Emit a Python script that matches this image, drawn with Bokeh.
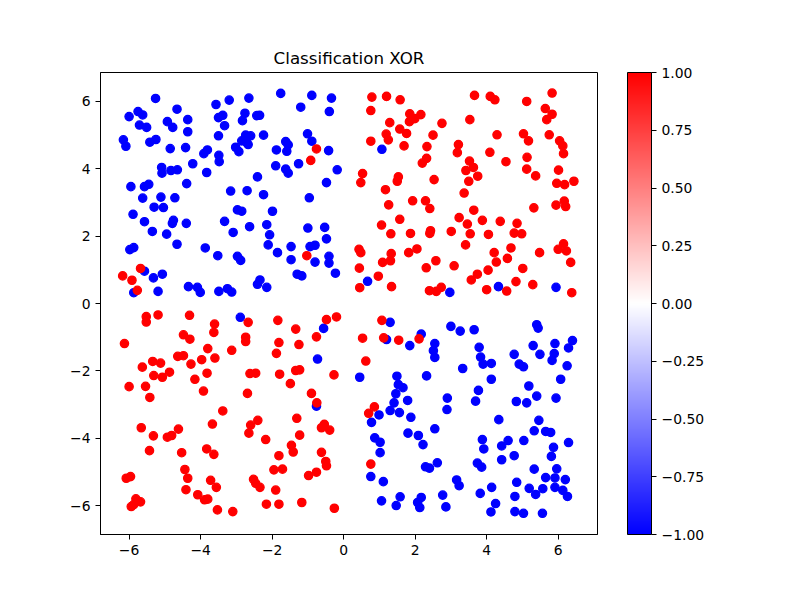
import numpy as np
from bokeh.plotting import figure
from bokeh.models import (ColumnDataSource, LinearColorMapper, ColorBar, FixedTicker,
                          CustomJSTickFormatter, Range1d)
from bokeh.transform import linear_cmap
from bokeh.embed import file_html
from bokeh.resources import INLINE

# ---- data (x, y) ----
blue_points = [
    (-5.26, 6.09), (-5.75, 5.70), (-5.62, 5.60), (-6.00, 5.55), (-4.66, 5.77), (-4.36, 5.46),
    (-4.93, 5.40), (-4.78, 5.23), (-5.71, 5.30), (-5.51, 5.23), (-4.36, 5.10), (-6.16, 4.86),
    (-6.09, 4.67), (-5.42, 4.79), (-5.25, 4.87), (-4.85, 4.60), (-4.42, 4.63), (-3.57, 5.91),
    (-3.50, 5.52), (-3.38, 5.59), (-3.33, 5.28), (-3.50, 4.98), (-3.81, 4.56), (-3.91, 4.45),
    (-3.49, 4.40), (-3.48, 4.21), (-4.22, 4.15), (-5.09, 4.04), (-5.08, 3.87), (-4.83, 3.95),
    (-4.65, 3.97), (-3.83, 3.89), (-4.39, 3.56), (-5.95, 3.47), (-5.57, 3.47), (-5.45, 3.54),
    (-5.62, 3.13), (-5.11, 3.16), (-4.72, 3.14), (-5.30, 2.86), (-5.04, 2.85), (-5.89, 2.65),
    (-5.57, 2.43), (-4.76, 2.47), (-4.79, 2.38), (-4.40, 2.38), (-3.33, 2.44),
    (-3.20, 6.04), (-2.65, 6.10), (-1.76, 6.24), (-0.89, 6.18), (-0.34, 6.10), (-1.20, 5.83),
    (-0.40, 5.70), (-2.76, 5.65), (-2.83, 5.43), (-2.43, 5.58), (-2.35, 5.59), (-2.74, 5.00),
    (-2.60, 4.98), (-2.85, 4.83), (-2.71, 4.78), (-2.67, 4.72), (-3.02, 4.64), (-2.93, 4.51),
    (-2.24, 5.00), (-1.62, 4.81), (-1.55, 4.71), (-1.88, 4.56), (-1.59, 4.52), (-1.01, 5.04),
    (-0.89, 4.82), (-0.42, 4.54), (-1.90, 4.09), (-1.62, 3.99), (-1.55, 3.87), (-1.26, 4.15),
    (-0.18, 3.97), (-2.41, 3.76), (-0.48, 3.59), (-3.16, 3.34), (-2.70, 3.35), (-2.24, 3.23),
    (-0.96, 3.14), (-2.97, 2.78), (-2.85, 2.74), (-1.99, 2.74), (-2.15, 2.34), (-1.00, 2.24),
    (-0.53, 2.26),
    (-3.09, 2.11), (-2.63, 2.28), (-2.07, 2.04), (-0.48, 1.92), (-2.11, 1.74), (-1.85, 1.51),
    (-1.47, 1.69), (-0.94, 1.69), (-0.80, 1.73), (-1.47, 1.30), (-0.80, 1.23), (-0.41, 1.40),
    (-0.41, 1.20), (-2.97, 1.40), (-2.88, 1.28), (-1.30, 0.87), (-1.17, 0.82), (-0.23, 0.90),
    (-2.34, 0.70), (-2.41, 0.57), (-2.15, 0.48), (-3.25, 0.44), (-3.13, 0.34),
    (-2.89, -0.41), (-0.56, -0.74), (-0.73, -1.65),
    (-5.35, 2.14), (-4.95, 2.06), (-4.66, 1.76), (-5.98, 1.60), (-5.87, 1.66), (-3.87, 1.65),
    (-3.52, 1.42), (-5.57, 0.96), (-5.32, 0.76), (-5.07, 0.87), (-5.87, 0.32), (-5.19, 0.36),
    (-4.34, 0.50), (-4.09, 0.48), (-4.01, 0.33), (-3.49, 0.36),
    (-0.76, -3.05), (1.07, 4.58), (0.67, 0.66), (2.97, 0.33),
    (1.30, -0.56), (1.20, -1.07), (2.17, -0.91), (1.85, -1.25), (2.55, -1.19), (2.51, -1.40),
    (2.55, -1.60), (3.00, -0.68), (3.26, -0.82), (3.65, -0.78), (3.33, -1.93), (0.45, -2.19),
    (1.49, -2.16), (2.32, -2.15),
    (4.33, 0.50), (5.94, 0.48), (5.40, -0.63), (5.44, -0.73), (6.40, -1.10), (5.91, -1.19),
    (5.30, -1.25), (6.29, -1.32), (3.79, -1.30), (5.89, -1.49), (5.49, -1.51), (4.77, -1.51),
    (3.83, -1.59), (5.83, -1.69), (3.90, -1.80), (4.13, -1.78), (4.91, -1.80), (5.03, -1.88),
    (6.25, -1.85), (4.13, -2.25), (6.07, -2.25),
    (1.53, -2.41), (1.66, -2.50), (1.46, -2.68), (1.79, -2.88), (1.41, -2.95), (1.30, -3.18),
    (1.56, -3.24), (0.99, -3.31), (0.78, -3.53), (1.88, -3.38), (2.90, -2.81), (2.89, -3.15),
    (2.55, -3.72), (1.80, -3.85), (2.09, -3.92), (2.22, -4.19), (0.87, -3.99), (1.02, -4.12),
    (1.02, -4.43), (2.29, -4.85), (2.40, -4.89), (2.62, -4.73), (0.76, -5.14), (1.11, -5.29),
    (3.16, -5.24), (3.23, -5.41), (1.58, -5.74), (1.06, -5.86), (1.47, -6.00), (2.17, -5.76),
    (2.07, -5.91), (2.13, -6.06), (2.77, -5.69), (2.86, -6.04),
    (3.77, -2.58), (3.69, -2.90), (5.18, -2.45), (5.40, -2.75), (5.94, -2.81), (4.83, -2.91),
    (5.12, -2.95), (4.34, -3.45), (5.46, -3.47), (5.33, -3.78), (5.65, -3.80), (5.79, -3.83),
    (5.04, -4.07), (6.29, -4.13), (4.60, -4.07), (4.42, -4.23), (3.88, -4.04), (3.92, -4.32),
    (5.87, -4.27), (5.81, -4.54), (4.77, -4.52), (4.42, -4.64), (3.74, -4.74), (3.86, -4.86),
    (5.33, -4.92), (5.96, -4.91), (5.65, -5.17), (5.91, -5.18), (6.20, -5.23), (4.84, -5.31),
    (4.14, -5.46), (5.19, -5.49), (5.57, -5.50), (5.91, -5.46), (5.37, -5.67), (6.13, -5.55),
    (6.26, -5.73), (3.82, -5.64), (4.79, -5.73), (4.25, -5.94), (4.12, -6.19), (4.79, -6.18),
    (5.03, -6.23), (5.56, -6.23),
]

red_points = [
    (-0.76, 4.59), (-0.92, 4.25), (-1.03, 1.42),
    (-2.67, -0.56), (-1.84, -0.50), (-1.34, -0.76), (-0.48, -0.48), (-0.20, -0.40), (-0.76, -0.99),
    (-2.74, -1.00), (-2.74, -1.13), (-1.81, -1.16), (-1.25, -1.22), (-3.13, -1.39), (-1.88, -1.48),
    (-2.62, -2.08), (-2.46, -2.07), (-1.79, -2.10), (-1.34, -1.99), (-1.23, -1.97), (-0.27, -2.12),
    (-5.68, 1.04), (-6.18, 0.82), (-5.92, 0.69), (-5.77, 0.39),
    (-5.52, -0.39), (-5.52, -0.55), (-5.19, -0.34), (-4.31, -0.35), (-3.61, -0.61), (-3.63, -0.86),
    (-4.48, -0.93), (-4.30, -1.06), (-6.13, -1.19), (-3.80, -1.34), (-4.64, -1.57), (-4.48, -1.55),
    (-3.97, -1.67), (-3.60, -1.62), (-4.27, -1.80), (-5.34, -1.72), (-5.12, -1.77), (-5.63, -1.89),
    (-3.82, -2.07), (-5.31, -2.14), (-5.07, -2.19), (-4.87, -2.04), (-4.16, -2.25),
    (-6.00, -2.47), (-5.54, -2.46), (-5.42, -2.79), (-3.92, -2.60), (-3.38, -3.19), (-3.67, -3.58),
    (-5.66, -3.69), (-5.32, -3.93), (-4.93, -3.97), (-4.81, -3.92), (-4.62, -3.73), (-5.43, -4.37),
    (-4.53, -4.43), (-3.83, -4.32), (-3.63, -4.48), (-4.44, -4.93), (-4.36, -5.19), (-6.08, -5.19),
    (-5.96, -5.14), (-3.72, -5.25), (-3.56, -5.46), (-4.41, -5.53), (-4.08, -5.68), (-3.89, -5.83),
    (-3.80, -5.81), (-3.53, -6.13), (-5.81, -5.80), (-5.68, -5.89), (-5.94, -6.03), (-5.87, -5.97),
    (-2.69, -2.67), (-1.49, -2.38), (-0.90, -2.67), (-0.75, -2.95), (-2.40, -3.47), (-2.60, -3.61),
    (-2.65, -3.85), (-1.31, -3.41), (-0.54, -3.59), (-0.62, -3.69), (-0.39, -3.76), (-1.23, -3.91),
    (-2.18, -4.04), (-1.46, -4.21), (-1.41, -4.41), (-1.81, -4.52), (-0.62, -4.42), (-0.50, -4.69),
    (-0.48, -4.82), (-1.95, -4.94), (-1.71, -4.92), (-0.76, -5.01), (-0.98, -5.11), (-2.52, -5.22),
    (-2.46, -5.34), (-2.34, -5.46), (-1.90, -5.54), (-2.16, -5.96), (-1.81, -5.96), (-1.17, -5.91),
    (-0.26, -6.08), (-3.10, -6.18),
    (0.79, 6.13), (1.20, 6.15), (1.58, 6.05), (0.76, 5.73), (3.66, 6.18), (1.85, 5.63),
    (1.99, 5.49), (2.16, 5.61), (1.84, 5.40), (1.29, 5.37), (2.75, 5.35), (3.53, 5.46),
    (1.57, 5.18), (1.76, 5.05), (1.19, 5.03), (1.25, 4.86), (0.76, 4.82), (1.69, 4.68),
    (2.50, 5.00), (2.33, 4.66), (3.21, 4.72), (3.18, 4.48), (2.32, 4.31), (2.20, 4.17),
    (3.52, 4.23), (3.42, 3.95), (3.63, 4.04), (3.50, 3.63), (0.53, 3.86), (0.48, 3.59),
    (1.53, 3.76), (1.50, 3.63), (2.53, 3.68), (1.17, 3.38), (3.37, 3.28), (1.26, 2.93),
    (1.93, 3.05), (2.29, 3.05), (2.41, 2.82), (3.64, 2.77), (1.57, 2.50), (3.23, 2.55),
    (3.46, 2.36), (1.06, 2.33),
    (4.10, 6.15), (4.23, 6.05), (5.12, 6.00), (5.83, 6.25), (5.64, 5.79), (5.83, 5.62),
    (5.68, 5.46), (4.29, 5.01), (5.03, 5.04), (5.17, 4.83), (5.75, 5.01), (6.04, 4.83),
    (6.13, 4.68), (6.15, 4.45), (4.09, 4.49), (4.54, 4.21), (5.13, 4.34), (5.12, 3.99),
    (5.37, 3.79), (6.01, 3.96), (5.96, 3.57), (6.18, 3.53), (6.44, 3.63), (3.75, 3.78),
    (5.32, 2.84), (5.94, 2.92), (6.17, 3.04), (6.21, 2.88), (3.88, 2.47), (4.38, 2.44),
    (4.85, 2.38),
    (1.32, 2.07), (1.87, 2.08), (2.43, 2.16), (2.41, 2.08), (3.01, 2.14), (3.54, 2.07),
    (3.41, 1.74), (0.43, 1.61), (0.48, 1.51), (1.33, 1.48), (1.82, 1.51), (2.05, 1.62),
    (1.09, 1.22), (1.31, 1.27), (2.58, 1.27), (0.44, 1.05), (2.31, 1.06), (3.09, 1.12),
    (0.97, 0.81), (3.57, 0.70), (0.45, 0.47), (1.34, 0.50), (2.40, 0.38), (2.59, 0.36),
    (2.73, 0.48),
    (1.07, -0.50), (0.53, -1.03), (1.12, -1.02), (1.54, -1.09), (2.11, -1.05), (0.62, -1.71),
    (4.05, 2.05), (4.77, 2.09), (4.98, 2.07), (6.15, 1.77), (6.00, 1.61), (6.23, 1.56),
    (5.48, 1.51), (6.35, 1.22), (4.21, 1.51), (4.68, 1.65), (4.58, 1.34), (4.27, 1.23),
    (5.01, 1.04), (4.04, 0.99), (3.74, 0.87), (4.82, 0.65), (5.29, 0.56), (4.00, 0.41),
    (4.56, 0.37), (6.38, 0.32),
    (0.86, -3.07), (0.70, -3.26), (0.76, -4.77),
]

blue_value = -1.0
red_value = 1.0
axis_ticks = [-6, -4, -2, 0, 2, 4, 6]
cbar_ticks = [-1.0, -0.75, -0.5, -0.25, 0.0, 0.25, 0.5, 0.75, 1.0]
title_text = "Classification XOR"


def bwr_palette(n=256):
    cols = []
    for i in range(n):
        t = i / (n - 1)
        if t < 0.5:
            r = g = t / 0.5
            b = 1.0
        else:
            r = 1.0
            g = b = (1.0 - t) / 0.5
        cols.append("#%02x%02x%02x" % (round(r * 255), round(g * 255), round(b * 255)))
    return cols


palette = bwr_palette()

xs = [p[0] for p in blue_points] + [p[0] for p in red_points]
ys = [p[1] for p in blue_points] + [p[1] for p in red_points]
cs = [blue_value] * len(blue_points) + [red_value] * len(red_points)
source = ColumnDataSource(dict(x=xs, y=ys, c=cs))

FONT = "DejaVu Sans"

p = figure(output_backend="svg", toolbar_location=None,
           frame_width=497, frame_height=462,
           min_border_left=100, min_border_right=203,
           min_border_top=72, min_border_bottom=66,
           x_range=Range1d(-6.80, 7.10), y_range=Range1d(-6.86, 6.86),
           title=title_text)

p.title.align = "center"
p.title.text_font = FONT
p.title.text_font_size = "16.7px"
p.title.text_font_style = "normal"
p.title.text_color = "black"

mapper = LinearColorMapper(palette=palette, low=-1, high=1)
cmap = linear_cmap("c", palette, -1, 1)
p.scatter("x", "y", source=source, size=8.3, fill_color=cmap, line_color=cmap,
          line_width=1.3)

p.xgrid.visible = False
p.ygrid.visible = False
p.outline_line_color = "black"
p.outline_line_width = 1
p.outline_line_alpha = 1

num_fmt = CustomJSTickFormatter(code="return tick.toFixed(0).replace('-', '\u2212');")
for ax in (p.xaxis[0], p.yaxis[0]):
    ax.ticker = FixedTicker(ticks=axis_ticks)
    ax.formatter = num_fmt
    ax.major_tick_out = 5
    ax.major_tick_in = 0
    ax.minor_tick_out = 0
    ax.minor_tick_in = 0
    ax.major_label_standoff = 5
    ax.major_label_text_font = FONT
    ax.major_label_text_font_size = "13.9px"
    ax.major_label_text_color = "black"
    ax.axis_line_color = "black"
    ax.major_tick_line_color = "black"

cb_fmt = CustomJSTickFormatter(code="return tick.toFixed(2).replace('-', '\u2212');")
cb = ColorBar(color_mapper=mapper, ticker=FixedTicker(ticks=cbar_ticks), formatter=cb_fmt,
              width=24, height=462, padding=0, margin=0, location=(30, 0),
              bar_line_color="black", bar_line_width=1,
              major_tick_line_color="black", major_tick_out=5, major_tick_in=0,
              minor_tick_line_color=None,
              label_standoff=5,
              major_label_text_font=FONT, major_label_text_font_size="13.9px",
              major_label_text_color="black",
              background_fill_alpha=0, border_line_color=None)
p.add_layout(cb, "right")

p.background_fill_color = "white"
p.border_fill_color = "white"

open("out.html", "w").write(file_html(p, INLINE))
